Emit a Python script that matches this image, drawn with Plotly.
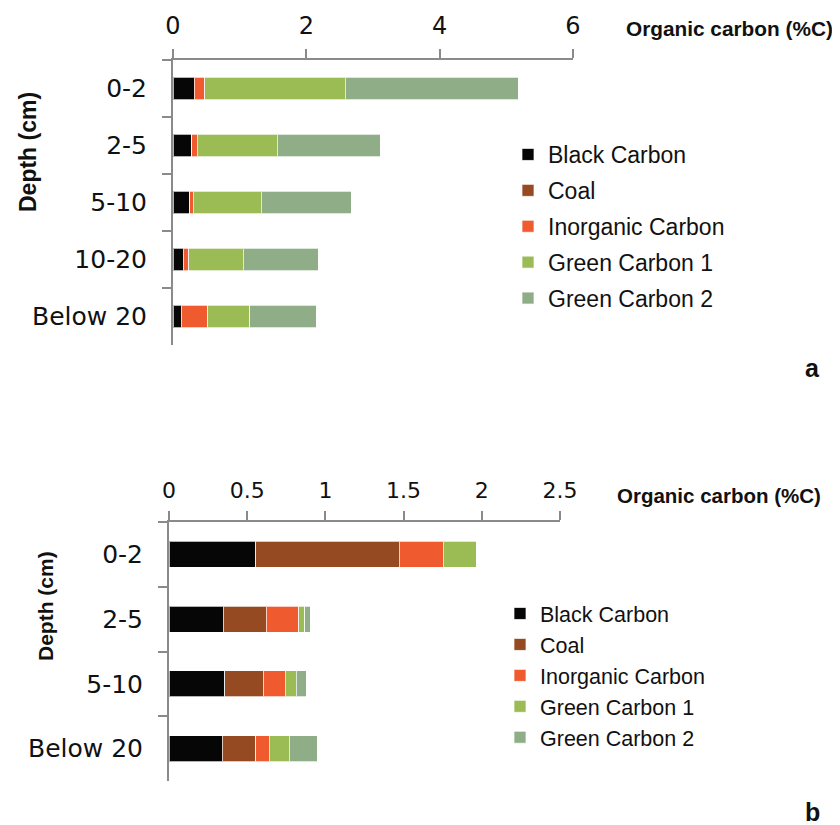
import plotly.graph_objects as go

W, H = 840, 825
OFF = 8  # page body margin of the written html page

# ---------------- data: panel a ----------------
depth_a = ["0-2", "2-5", "5-10", "10-20", "Below 20"]
black_a = [0.315, 0.28, 0.25, 0.15, 0.12]
coal_a = [0.0, 0.0, 0.0, 0.0, 0.0]
inorg_a = [0.16, 0.08, 0.05, 0.085, 0.40]
green1_a = [2.11, 1.20, 1.02, 0.82, 0.63]
green2_a = [2.59, 1.55, 1.35, 1.125, 1.00]

# ---------------- data: panel b ----------------
depth_b = ["0-2", "2-5", "5-10", "Below 20"]
black_b = [0.556, 0.347, 0.356, 0.341]
coal_b = [0.917, 0.275, 0.247, 0.215]
inorg_b = [0.281, 0.209, 0.139, 0.085]
green1_b = [0.209, 0.038, 0.070, 0.128]
green2_b = [0.0, 0.034, 0.066, 0.179]

series_names = ["Black Carbon", "Coal", "Inorganic Carbon", "Green Carbon 1", "Green Carbon 2"]
colors = ["#060606", "#954a22", "#f05a2f", "#9bbb55", "#8fae88"]

xa_ticks = [0, 2, 4, 6]
xb_ticks = [0, 0.5, 1, 1.5, 2, 2.5]


def px_x(v):
    return (v - OFF) / W


def px_y(v):
    return 1 - (v - OFF) / H


fig = go.Figure()

vals_a = [black_a, coal_a, inorg_a, green1_a, green2_a]
vals_b = [black_b, coal_b, inorg_b, green1_b, green2_b]

for i, (name, col, vals) in enumerate(zip(series_names, colors, vals_a)):
    fig.add_trace(go.Bar(
        y=depth_a, x=vals, name=name, orientation="h",
        marker=dict(color=col, line=dict(color="rgba(255,255,255,0.7)", width=1)),
        width=0.39, xaxis="x", yaxis="y", legend="legend",
        legendgroup="a%d" % i,
    ))

for i, (name, col, vals) in enumerate(zip(series_names, colors, vals_b)):
    fig.add_trace(go.Bar(
        y=depth_b, x=vals, name=name, orientation="h",
        marker=dict(color=col, line=dict(color="rgba(255,255,255,0.7)", width=1)),
        width=0.40, xaxis="x2", yaxis="y2", legend="legend2",
        legendgroup="b%d" % i,
    ))

axis_col = "#8a8a8a"
tick_font_a = dict(family="Verdana, DejaVu Sans", size=24, color="#111111")
tick_font_b = dict(family="Verdana, DejaVu Sans", size=22, color="#111111")
ytick_font = dict(family="Verdana, DejaVu Sans", size=25, color="#111111")
bold = "Liberation Sans, Arial"

common_x = dict(side="top", showgrid=False, zeroline=False, showline=True,
                linecolor=axis_col, linewidth=2, ticks="outside", ticklen=9,
                tickwidth=2, tickcolor=axis_col, automargin=False)
common_y = dict(type="category", autorange="reversed", showgrid=False,
                zeroline=False, showline=True, linecolor=axis_col, linewidth=2,
                ticks="outside", ticklen=9, tickwidth=2, tickcolor=axis_col,
                tickson="boundaries", tickfont=ytick_font, automargin=False)

fig.update_layout(
    width=W, height=H, barmode="stack",
    paper_bgcolor="white", plot_bgcolor="white",
    margin=dict(l=0, r=0, t=0, b=0, autoexpand=False),
    xaxis=dict(**common_x, domain=[px_x(173), px_x(573)], range=[0, 6],
               tickvals=xa_ticks, tickfont=tick_font_a, anchor="y",
               ticklabelstandoff=5),
    yaxis=dict(**common_y, domain=[px_y(345), px_y(60)], anchor="x",
               ticklabelstandoff=19),
    xaxis2=dict(**common_x, domain=[px_x(169), px_x(560)], range=[0, 2.5],
                tickvals=xb_ticks, tickfont=tick_font_b, anchor="y2",
                ticklabelstandoff=4),
    yaxis2=dict(**common_y, domain=[px_y(781), px_y(522)], anchor="x2",
                ticklabelstandoff=19),
    legend=dict(x=px_x(508), y=px_y(133), xanchor="left", yanchor="top",
                font=dict(family="Liberation Sans, Arial", size=23, color="#111111"),
                tracegroupgap=3, bgcolor="rgba(0,0,0,0)", itemclick=False),
    legend2=dict(x=px_x(500), y=px_y(593), xanchor="left", yanchor="top",
                 font=dict(family="Liberation Sans, Arial", size=21.5, color="#111111"),
                 tracegroupgap=0, bgcolor="rgba(0,0,0,0)", itemclick=False),
    showlegend=True,
)

annos = [
    dict(text="<b>Organic carbon (%C)</b>", x=px_x(624), y=px_y(28),
         xanchor="left", yanchor="middle", font=dict(family=bold, size=20.8, color="#111")),
    dict(text="<b>Organic carbon (%C)</b>", x=px_x(615), y=px_y(495),
         xanchor="left", yanchor="middle", font=dict(family=bold, size=20.5, color="#111")),
    dict(text="<b>Depth (cm)</b>", x=px_x(28), y=px_y(152), textangle=-90,
         xanchor="center", yanchor="middle", font=dict(family=bold, size=23, color="#111")),
    dict(text="<b>Depth (cm)</b>", x=px_x(45), y=px_y(606), textangle=-90,
         xanchor="center", yanchor="middle", font=dict(family=bold, size=21, color="#111")),
    dict(text="<b>a</b>", x=px_x(812), y=px_y(368), xanchor="center", yanchor="middle",
         font=dict(family=bold, size=25, color="#111")),
    dict(text="<b>b</b>", x=px_x(812), y=px_y(812), xanchor="center", yanchor="middle",
         font=dict(family=bold, size=25, color="#111")),
]
for a in annos:
    a.update(xref="paper", yref="paper", showarrow=False)
fig.update_layout(annotations=annos)

fig.write_html("out.html")
